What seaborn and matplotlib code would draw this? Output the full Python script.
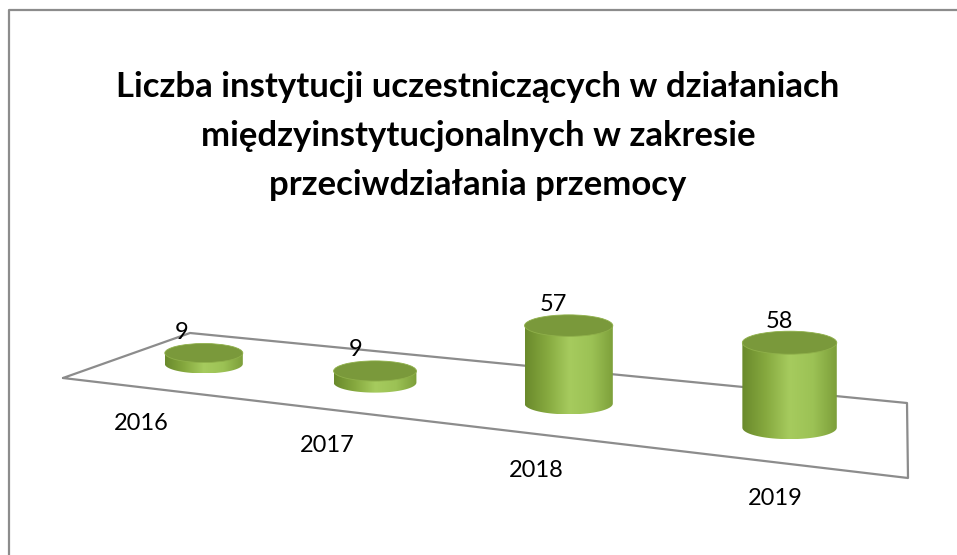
import numpy as np
import matplotlib
matplotlib.use("Agg")
import matplotlib.pyplot as plt
from matplotlib.patches import Ellipse, PathPatch
from matplotlib.path import Path
import seaborn as sns

# ── Data ──────────────────────────────────────────────────────────────────────
years  = ["2016", "2017", "2018", "2019"]
values = [9, 9, 57, 58]
title  = ("Liczba instytucji uczestniczących w działaniach\n"
          "międzyinstytucjonalnych w zakresie\n"
          "przeciwdziałania przemocy")

# ── Style / layout (pixel space, 1 unit = 1 px) ───────────────────────────────
W, H = 957, 555
FLOOR = {"FL": (63, 378), "BL": (190, 333), "FR": (908, 478), "BR": (907, 403)}
PERSP  = 0.058          # perspective growth along the category axis
U0, UB = 0.099, 0.2065  # first category position / spacing on the floor
BAR_W, ELL_H, K = 78, 19, 1.21
GRAY = "#8c8c8c"

sns.set_theme(style="white")
plt.rcParams["font.family"] = ["Lato", "DejaVu Sans"]

body_cmap = sns.blend_palette(["#6a8a2c", "#86a93f", "#a6cb5e", "#9cc255", "#7d9f3a"],
                              as_cmap=True)


def floor_pt(u, d):
    (x1, y1), (x2, y2) = FLOOR["FL"], FLOOR["FR"]
    (x3, y3), (x4, y4) = FLOOR["BL"], FLOOR["BR"]
    x = (1-u)*(1-d)*x1 + u*(1-d)*x2 + (1-u)*d*x3 + u*d*x4
    y = (1-u)*(1-d)*y1 + u*(1-d)*y2 + (1-u)*d*y3 + u*d*y4
    return x, y


def draw_cylinder(ax, cx, base, w, eh, h):
    top = base - h
    # body outline: sides + lower half of bottom ellipse
    t = np.linspace(np.pi, 0, 40)
    arc = np.column_stack([cx + np.cos(t) * w / 2, base + np.sin(t) * eh / 2])
    verts = [(cx - w / 2, top)] + [tuple(p) for p in arc] + [(cx + w / 2, top), (cx - w / 2, top)]
    path = Path(verts, [Path.MOVETO] + [Path.LINETO] * (len(verts) - 2) + [Path.CLOSEPOLY])
    clip = PathPatch(path, facecolor="none", edgecolor="none")
    ax.add_patch(clip)
    grad = np.linspace(0, 1, 200).reshape(1, -1)
    im = ax.imshow(grad, cmap=body_cmap, aspect="auto", interpolation="bilinear",
                   extent=(cx - w / 2, cx + w / 2, base + eh / 2, top), zorder=3)
    im.set_clip_path(clip)
    ax.add_patch(Ellipse((cx, top), w, eh, facecolor="#7a993b",
                         edgecolor="#8fb04a", lw=0.6, zorder=4))


fig = plt.figure(figsize=(W / 100, H / 100), dpi=100)
ax = fig.add_axes([0, 0, 1, 1])
ax.set_axis_off()

# chart border (only top and left are visible)
ax.plot([9, 9, W], [H, 9.5, 9.5], color=GRAY, lw=1.6, zorder=1)

# floor
fl = [FLOOR["FL"], FLOOR["BL"], FLOOR["BR"], FLOOR["FR"], FLOOR["FL"]]
ax.plot([p[0] for p in fl], [p[1] for p in fl], color=GRAY, lw=1.6, zorder=2)

for i, (yr, v) in enumerate(zip(years, values)):
    s = 1 / (1 - PERSP * i)
    u = U0 + UB * i * s
    cx, base = floor_pt(u, 0.5)
    w, eh, h = BAR_W * s, ELL_H * s, v * K * s
    draw_cylinder(ax, cx, base, w, eh, h)
    ax.text(cx - 24 + 16 * u, base - h - 21, f"{v}", ha="center", va="center",
            fontsize=17, color="black", zorder=5)
    fx, fy = floor_pt(u, 0)
    ax.text(fx - 5, fy + 36, yr, ha="center", va="center", fontsize=17, color="black")

ax.text(478, 136, title, ha="center", va="center", fontsize=25,
        fontweight="bold", linespacing=1.66, color="black")

ax.set_xlim(0, W)
ax.set_ylim(H, 0)
fig.savefig("out.png", dpi=100)
